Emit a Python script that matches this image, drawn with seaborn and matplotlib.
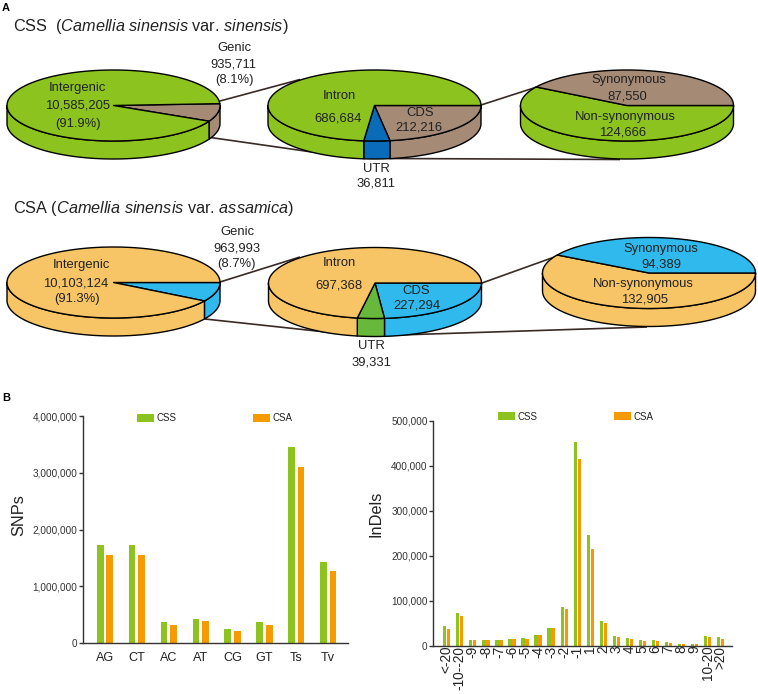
import numpy as np
import pandas as pd
import matplotlib
matplotlib.use('Agg')
import matplotlib.pyplot as plt
from matplotlib.patches import Polygon
import seaborn as sns

# ---- pie values ----
css_genome = [935711, 10585205]
css_genic = [212216, 36811, 686684]
css_cds = [124666, 87550]
csa_genome = [963993, 10103124]
csa_genic = [227294, 39331, 697368]
csa_cds = [132905, 94389]

# ---- bar values ----
snp_types = ['AG', 'CT', 'AC', 'AT', 'CG', 'GT', 'Ts', 'Tv']
snp_css = [1730000, 1730000, 375000, 428000, 252000, 381000, 3449000, 1437000]
snp_csa = [1554000, 1548000, 323000, 393000, 217000, 328000, 3103000, 1267000]

indel_sizes = ['<-20', '-10--20', '-9', '-8', '-7', '-6', '-5', '-4', '-3', '-2', '-1',
               '1', '2', '3', '4', '5', '6', '7', '8', '9', '10-20', '>20']
indel_css = [44000, 72000, 12600, 13000, 12600, 15000, 17000, 23700, 39000, 85000, 452600,
             245000, 54000, 20700, 17000, 11800, 12000, 7400, 4400, 3500, 21500, 19000]
indel_csa = [38000, 66000, 12000, 12000, 12500, 14000, 16000, 23500, 39000, 81000, 415500,
             216000, 51000, 20000, 16000, 11000, 10500, 6000, 4200, 3500, 19000, 15000]

GREEN = '#8cc31f'
BROWN = '#a58a75'
DBLUE = '#0a6cb8'
SKY = '#2fb9ec'
SAND = '#f8c566'
LGREEN = '#68b83c'
ORANGE = '#f59a00'
LINE = '#3a2a25'
TXT = '#222222'

sns.set_theme(style='white')
plt.rcParams['font.family'] = ['Liberation Sans', 'DejaVu Sans']
plt.rcParams['mathtext.fontset'] = 'custom'
plt.rcParams['mathtext.it'] = 'Liberation Sans:italic'
plt.rcParams['mathtext.rm'] = 'Liberation Sans'

W, H = 758, 694
fig = plt.figure(figsize=(W / 100, H / 100), dpi=100, facecolor='white')

# overlay in pixel units for the pseudo 3D pies and their labels
ov = fig.add_axes([0, 0, 1, 1], zorder=3)
ov.set_xlim(0, W)
ov.set_ylim(H, 0)
ov.axis('off')
ov.patch.set_alpha(0)


def disc(values, colors, cx, cy, start=0, rx=106.5, ry=35.5, depth=18):
    # slices run clockwise from start, the angles come from the values
    sweep = np.cumsum(values) / np.sum(values) * 360
    edges = start - np.concatenate([[0], sweep])
    for a0, a1, col in zip(edges[:-1], edges[1:], colors):
        hi, lo = min(a0, 0), max(a1, -180)
        if hi > lo:
            t = np.radians(np.linspace(hi, lo, 80))
            x = cx + rx * np.cos(t)
            y = cy - ry * np.sin(t)
            pts = np.r_[np.c_[x, y], np.c_[x[::-1], y[::-1] + depth]]
            ov.add_patch(Polygon(pts, closed=True, fc=col, ec='black', lw=1.0, joinstyle='round'))
    for a0, a1, col in zip(edges[:-1], edges[1:], colors):
        t = np.radians(np.linspace(a0, a1, 160))
        pts = np.r_[[[cx, cy]], np.c_[cx + rx * np.cos(t), cy - ry * np.sin(t)]]
        ov.add_patch(Polygon(pts, closed=True, fc=col, ec='black', lw=1.0, joinstyle='round'))


def link(x0, y0, x1, y1):
    ov.plot([x0, x1], [y0, y1], color=LINE, lw=1.2, solid_capstyle='butt', zorder=0.5)


link(220, 101, 300, 79.5)
link(207, 137, 312, 152)
link(481, 105, 540, 86)
link(390, 158.5, 620, 159.5)
link(220, 282, 300, 257)
link(205, 319, 335, 333)
link(482, 283, 560, 255)
link(384, 335.5, 647, 327)

disc(css_genome, [BROWN, GREEN], 113.5, 105.5, start=3)
disc(css_genic, [BROWN, DBLUE, GREEN], 374.5, 105.5)
disc(css_cds, [GREEN, BROWN], 627, 105.5)
disc(csa_genome, [SKY, SAND], 113.5, 282.5)
disc(csa_genic, [SKY, LGREEN, SAND], 375, 283)
disc(csa_cds, [SAND, SKY], 649, 273)

labels = [
    ('Intergenic', 77, 88), ('10,585,205', 78, 105), ('(91.9%)', 78, 124),
    ('Genic', 234, 48), ('935,711', 233, 64), ('(8.1%)', 234, 80),
    ('Intron', 339, 96), ('686,684', 338, 118), ('CDS', 420, 113), ('212,216', 419, 127),
    ('UTR', 376, 169), ('36,811', 376, 183),
    ('Synonymous', 629, 80), ('87,550', 627, 96), ('Non-synonymous', 625, 117), ('124,666', 623, 132),
    ('Intergenic', 81, 265), ('10,103,124', 76, 283), ('(91.3%)', 77, 299),
    ('Genic', 237, 232), ('963,993', 237, 248), ('(8.7%)', 237, 264),
    ('Intron', 339, 263), ('697,368', 339, 285), ('CDS', 416, 291), ('227,294', 417, 305),
    ('UTR', 371, 346), ('39,331', 371, 362),
    ('Synonymous', 661, 249), ('94,389', 661, 264), ('Non-synonymous', 643, 284), ('132,905', 645, 299),
]
for s, x, y in labels:
    ov.text(x, y, s, ha='center', va='center', fontsize=9.4, color=TXT)

ov.text(13, 26, r'CSS  ($\mathit{Camellia\ sinensis}$ var. $\mathit{sinensis}$)',
        ha='left', va='center', fontsize=11.7, color=TXT)
ov.text(13, 208, r'CSA ($\mathit{Camellia\ sinensis}$ var. $\mathit{assamica}$)',
        ha='left', va='center', fontsize=11.7, color=TXT)
ov.text(2, 8, 'A', ha='left', va='center', fontsize=8, fontweight='bold', color='black')
ov.text(2, 398, 'B', ha='left', va='center', fontsize=8, fontweight='bold', color='black')


def bars(names, css, csa, box, xlim, ymax, yticks, ylabel, width, gap, label_size, rot, xpad, legend_xy, label_xy):
    left, top, right, bottom = box
    ax = fig.add_axes([left / W, 1 - bottom / H, (right - left) / W, (bottom - top) / H])
    df = pd.DataFrame({'name': list(names) * 2,
                       'count': list(css) + list(csa),
                       'line': ['CSS'] * len(names) + ['CSA'] * len(names)})
    sns.barplot(data=df, x='name', y='count', hue='line', order=names, hue_order=['CSS', 'CSA'],
                palette={'CSS': GREEN, 'CSA': ORANGE}, width=width, gap=gap, saturation=1,
                linewidth=0, ax=ax)
    ax.set_xlim(*xlim)
    ax.set_ylim(0, ymax)
    ax.set_yticks(yticks)
    ax.set_yticklabels([f'{v:,}' for v in yticks], fontsize=7.2, color='#333333')
    ax.tick_params(axis='y', left=True, length=3, width=1, color='#333333', pad=1)
    ax.tick_params(axis='x', bottom=False, length=0, labelsize=label_size, labelcolor=TXT, pad=xpad)
    for lab in ax.get_xticklabels():
        lab.set_rotation(rot)
    ax.set_xlabel('')
    ax.set_ylabel(ylabel, fontsize=11.8, color=TXT)
    ax.yaxis.set_label_coords((label_xy[0] - left) / (right - left), (bottom - label_xy[1]) / (bottom - top))
    sns.despine(ax=ax)
    for side in ['left', 'bottom']:
        ax.spines[side].set_color('#333333')
        ax.spines[side].set_linewidth(1)
    sns.move_legend(ax, 'upper left', bbox_to_anchor=(legend_xy[0] / W, 1 - legend_xy[1] / H),
                    bbox_transform=fig.transFigure, ncol=2, frameon=False, title=None,
                    fontsize=7, handlelength=1.75, handleheight=0.85, handletextpad=0.3,
                    columnspacing=7.8, borderpad=0, borderaxespad=0)
    for t in ax.get_legend().get_texts():
        t.set_color(TXT)
    return ax


bars(snp_types, snp_css, snp_csa, (83, 416, 348, 643.3), (-0.69, 7.62), 4000000,
     [0, 1000000, 2000000, 3000000, 4000000], 'SNPs', 0.6, 0.3, 9.1, 0, 6.5, (137, 413), (26, 515))
bars(indel_sizes, indel_css, indel_csa, (433.3, 420.7, 731.7, 645.7), (-1.03, 21.84), 500000,
     [0, 100000, 200000, 300000, 400000, 500000], 'InDels', 0.61, 0.18, 9.8, 90, 0, (498, 411.5), (384, 514))

fig.savefig('out.png', dpi=100)
